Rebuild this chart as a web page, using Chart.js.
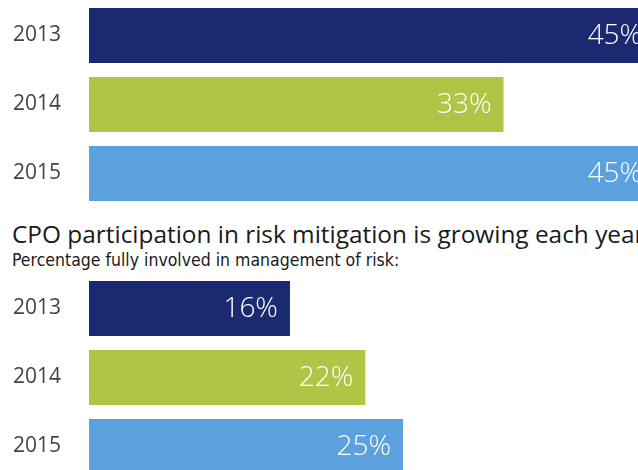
<!DOCTYPE html>
<html>
<head>
<meta charset="utf-8">
<script src="https://cdn.jsdelivr.net/npm/chart.js@4/dist/chart.umd.min.js"></script>
<style>
  html, body { margin:0; padding:0; width:638px; height:470px; overflow:hidden; background:#fff; }
  .box { position:absolute; left:0; width:717px; height:207px; }
  .title { position:absolute; left:12px; white-space:nowrap; color:#1a1a1a; line-height:1; }
</style>
</head>
<body>
<div class="box" style="top:1px;"><canvas id="chartTop"></canvas></div>
<div class="title" style="top:222px; font-family:'Open Sans',sans-serif; font-size:24.4px;">CPO participation in risk mitigation is growing each year</div>
<div class="title" style="top:252px; font-family:'Liberation Sans Narrow','DejaVu Sans Condensed',sans-serif; font-size:17.5px;">Percentage fully involved in management of risk:</div>
<div class="box" style="top:274px;"><canvas id="chartBottom"></canvas></div>
<script>
const years = ['2013', '2014', '2015'];
const topValues = [45, 33, 45];
const mitigationValues = [16, 22, 25];
const xTicks = [0, 50];

const yearColors = ['#1b2a70', '#aec546', '#5ba1dd'];

// white % label at the inner end of each bar
const barValueLabels = {
  id: 'barValueLabels',
  afterDatasetsDraw(chart) {
    const ctx = chart.ctx;
    const ds = chart.data.datasets[0];
    ctx.save();
    ctx.fillStyle = '#ffffff';
    ctx.font = '300 28px "Open Sans", sans-serif';
    ctx.textAlign = 'right';
    ctx.textBaseline = 'middle';
    chart.getDatasetMeta(0).data.forEach((bar, i) => {
      ctx.fillText(ds.data[i] + '%', bar.x - 12, bar.y + 1);
    });
    ctx.restore();
  }
};

function makeChart(id, values) {
  const ctx = document.getElementById(id).getContext('2d');
  return new Chart(ctx, {
    type: 'bar',
    data: {
      labels: years,
      datasets: [{
        data: values,
        backgroundColor: yearColors,
        borderWidth: 0,
        barPercentage: 55 / 69,
        categoryPercentage: 1
      }]
    },
    options: {
      indexAxis: 'y',
      responsive: true,
      maintainAspectRatio: false,
      animation: false,
      layout: { padding: { left: 13, right: 0, top: 0, bottom: 0 } },
      plugins: { legend: { display: false }, tooltip: { enabled: false } },
      scales: {
        x: { display: false, min: xTicks[0], max: xTicks[1] },
        y: {
          // fixed gutter for the year labels, no extra room above/below
          afterFit: s => { s.width = 76; s.paddingTop = 0; s.paddingBottom = 0; },
          grid: { display: false, drawTicks: false },
          border: { display: false },
          ticks: {
            crossAlign: 'far',
            padding: 0,
            color: '#444444',
            font: { family: 'Open Sans', size: 21 }
          }
        }
      }
    },
    plugins: [barValueLabels]
  });
}

makeChart('chartTop', topValues);
makeChart('chartBottom', mitigationValues);
</script>
</body>
</html>
